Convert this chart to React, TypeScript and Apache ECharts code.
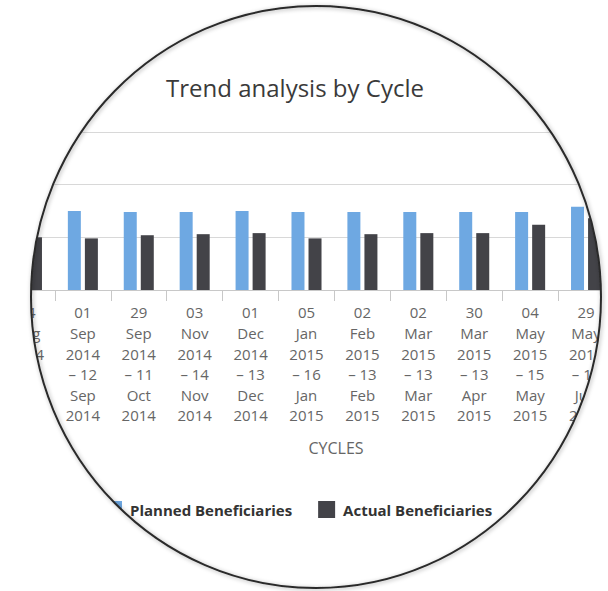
import React, { useEffect, useRef } from 'react';
import * as echarts from 'echarts';

const categories = [
  '04 Aug 2014 – 15 Aug 2014',
  '01 Sep 2014 – 12 Sep 2014',
  '29 Sep 2014 – 11 Oct 2014',
  '03 Nov 2014 – 14 Nov 2014',
  '01 Dec 2014 – 13 Dec 2014',
  '05 Jan 2015 – 16 Jan 2015',
  '02 Feb 2015 – 13 Feb 2015',
  '02 Mar 2015 – 13 Mar 2015',
  '30 Mar 2015 – 13 Apr 2015',
  '04 May 2015 – 15 May 2015',
  '29 May 2015 – 12 Jun 2015',
];
const planned = [75, 75, 74, 74, 75, 74, 74, 74, 74, 74, 79];
const actual = [50, 49, 52, 53, 54, 49, 53, 54, 54, 62, 68];
const yMin = 0;
const yMax = 150;
const yInterval = 50;

const OX = 100;
const W = 808;
const H = 591;

function fmt(s: string) {
  const p = s.split(' ');
  return [p[0], p[1], p[2], p[3] + ' ' + p[4], p[5], p[6]].join('\n');
}

export default function App() {
  const ref = useRef<HTMLDivElement>(null);
  useEffect(() => {
    const chart = echarts.init(ref.current!, null, { renderer: 'svg' });
    const font = '"Open Sans", "DejaVu Sans", sans-serif';
    const ecx = 316 + OX;
    const ecy = 297;
    const rx = 285;
    const ry = 291;
    chart.setOption({
      animation: false,
      textStyle: { fontFamily: font },
      title: {
        text: 'Trend analysis by Cycle',
        left: 290 + OX,
        top: 70,
        textAlign: 'center',
        textStyle: { fontFamily: font, fontSize: 24, fontWeight: 'normal', color: '#3a3a3a' },
      },
      legend: {
        left: 100 + OX,
        top: 496,
        itemWidth: 17,
        itemHeight: 17,
        itemGap: 26,
        icon: 'rect',
        textStyle: { fontFamily: font, fontSize: 15, fontWeight: 'bold', color: '#333', padding: [0, 0, 0, 3] },
        data: ['Planned Beneficiaries', 'Actual Beneficiaries'],
      },
      grid: { left: 99, right: W - 99 - 615, top: 132, bottom: H - 290, containLabel: false },
      xAxis: {
        type: 'category',
        data: categories,
        name: 'CYCLES',
        nameLocation: 'middle',
        nameGap: 150,
        nameTextStyle: { fontFamily: font, fontSize: 16, color: '#666', padding: [0, 0, 0, 59] },
        axisLine: { lineStyle: { color: '#c8c8c8', width: 1 } },
        axisTick: { show: true, length: 11, lineStyle: { color: '#c8c8c8' } },
        axisLabel: {
          interval: 0,
          formatter: (v: string) => fmt(v),
          fontFamily: font,
          fontSize: 15,
          lineHeight: 20.6,
          color: '#666',
          margin: 12,
        },
      },
      yAxis: {
        type: 'value',
        min: yMin,
        max: yMax,
        interval: yInterval,
        axisLabel: { show: false },
        axisLine: { show: false },
        axisTick: { show: false },
        splitLine: { lineStyle: { color: '#d8d8d8' } },
      },
      series: [
        {
          name: 'Planned Beneficiaries',
          type: 'bar',
          data: planned,
          barWidth: 13,
          barGap: '31%',
          itemStyle: { color: '#6ea8e2' },
        },
        {
          name: 'Actual Beneficiaries',
          type: 'bar',
          data: actual,
          barWidth: 13,
          itemStyle: { color: '#434348' },
        },
      ],
      graphic: [
        {
          type: 'ring',
          x: ecx,
          y: ecy,
          scaleY: ry / rx,
          shape: { cx: 0, cy: 0, r: 1400, r0: rx },
          style: { fill: '#ffffff' },
          z: 100,
          silent: true,
        },
        {
          type: 'ellipse',
          shape: { cx: ecx, cy: ecy, rx: rx, ry: ry },
          style: {
            fill: 'none',
            stroke: '#2a2a2a',
            lineWidth: 2,
            shadowColor: 'rgba(0,0,0,0.35)',
            shadowBlur: 4,
            shadowOffsetX: 1,
            shadowOffsetY: 1,
          },
          z: 101,
          silent: true,
        },
      ],
    });
    return () => chart.dispose();
  }, []);
  return (
    <div
      style={{
        position: 'fixed',
        left: 0,
        top: 0,
        width: 608,
        height: 591,
        overflow: 'hidden',
        background: '#fff',
      }}
    >
      <div ref={ref} style={{ position: 'absolute', left: -OX, top: 0, width: W, height: H }} />
    </div>
  );
}
